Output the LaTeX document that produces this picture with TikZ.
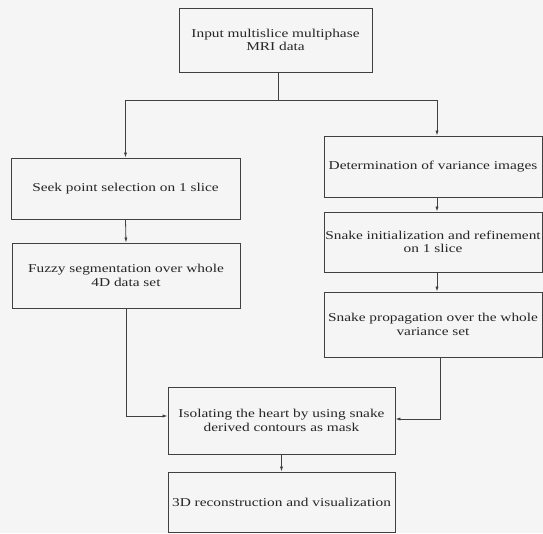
\documentclass[tikz,border=0pt]{standalone}
\usepackage{fontspec}
\setmainfont{Liberation Serif}[FakeStretch=1.28]
\usetikzlibrary{arrows.meta}
\begin{document}
\begin{tikzpicture}[x=1pt,y=-1pt,
  box/.style={draw=black!75,line width=0.9pt,rectangle,inner sep=0pt,align=center,
    font=\fontsize{12}{13.5}\selectfont,text=black!85},
  conn/.style={draw=black!75,line width=0.8pt},
  arr/.style={conn,-{Latex[length=5pt,width=3.2pt]}}]
\fill[black!4] (0,0) rectangle (543,533);
\useasboundingbox (0,0) rectangle (543,533);
\node[box,minimum width=193pt,minimum height=64pt] (top) at (275.5,40) {Input multislice multiphase\\MRI data};
\node[box,minimum width=229pt,minimum height=61pt] (seek) at (125.5,188.5) {Seek point selection on 1 slice};
\node[box,minimum width=228pt,minimum height=65pt] (fuzzy) at (126,275.5) {Fuzzy segmentation over whole\\4D data set};
\node[box,minimum width=218pt,minimum height=61pt] (det) at (433,166.5) {Determination of variance images};
\node[box,minimum width=218pt,minimum height=60pt] (init) at (433,242) {Snake initialization and refinement\\on 1 slice};
\node[box,minimum width=218pt,minimum height=65pt] (prop) at (433,324.5) {Snake propagation over the whole\\variance set};
\node[box,minimum width=227pt,minimum height=67pt] (iso) at (281.5,420.5) {Isolating the heart by using snake\\derived contours as mask};
\node[box,minimum width=227pt,minimum height=60pt] (rec) at (281.5,502) {3D reconstruction and visualization};
\coordinate (j) at (278,100);
\draw[conn] (top.south -| j) -- (j);
\draw[arr] (j) -| (seek.north);
\draw[arr] (j) -| ([xshift=4pt]det.north);
\draw[arr] (seek.south) -- (fuzzy.north);
\draw[arr] ([xshift=4pt]det.south) -- ([xshift=4pt]init.north);
\draw[arr] ([xshift=4pt]init.south) -- ([xshift=4pt]prop.north);
\draw[arr] (fuzzy.south) |- ([yshift=4.5pt]iso.west);
\draw[arr] ([xshift=7pt]prop.south) |- ([yshift=1.5pt]iso.east);
\draw[arr] (iso.south) -- (rec.north);
\end{tikzpicture}
\end{document}
